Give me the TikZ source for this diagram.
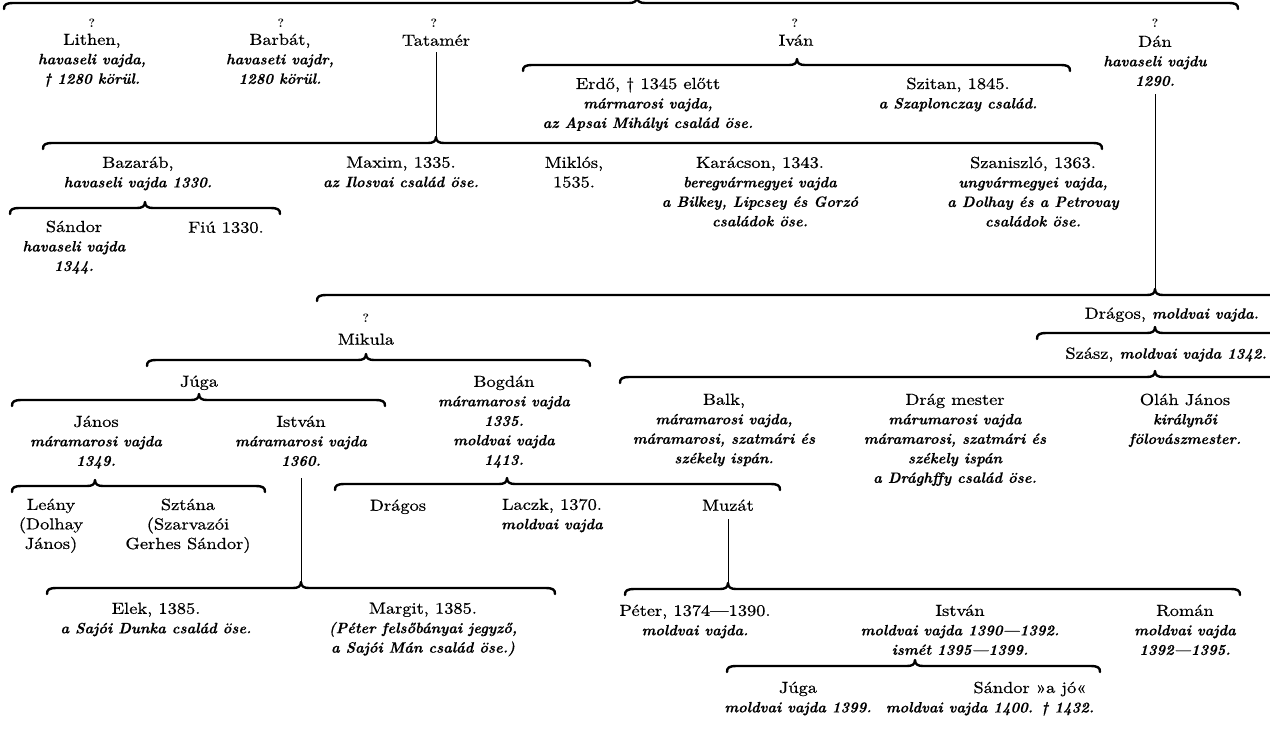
\documentclass[tikz,border=0pt]{standalone}
\usepackage{fontspec}
\setmainfont{lmroman10-regular}[Extension=.otf, FakeStretch=1.12]
\newfontfamily\rmwide{lmroman10-regular}[Extension=.otf, FakeStretch=1.15, FakeBold=0.7]
\newfontfamily\bitfont{lmroman10-bolditalic}[Extension=.otf, FakeStretch=0.97, FakeBold=0.3]
\newfontfamily\qfont{lmroman10-bold}[Extension=.otf]
\newcommand\iti[1]{{\bitfont\fontsize{15}{19.5}\selectfont #1}}
\newcommand\brc[4]{% x1 tip x2 y
  \draw[brc] (#1,#4+6) .. controls (#1,#4+1.5) and (#1+2,#4) .. (#1+10,#4) -- (#2-8,#4)
    .. controls (#2-3,#4) and (#2,#4-1.5) .. (#2,#4-6)
    .. controls (#2,#4-1.5) and (#2+3,#4) .. (#2+8,#4) -- (#3-10,#4)
    .. controls (#3-2,#4) and (#3,#4+1.5) .. (#3,#4+6);}
\tikzset{
  nm/.style={anchor=north, align=center, inner sep=0pt, font=\rmwide\fontsize{16}{19.5}\selectfont, execute at begin node={\rule{0pt}{12pt}}},
  qm/.style={inner sep=0pt, font=\qfont\fontsize{12}{13}\selectfont},
  brc/.style={line width=2.4pt, line cap=round, line join=round},
  vln/.style={line width=0.7pt},
}
\begin{document}
\begin{tikzpicture}[x=1pt,y=-1pt]
\useasboundingbox (0,0) rectangle (1270,731);
\fill[white] (0,0) rectangle (1270,731);
\clip (0,0) rectangle (1270,731);
% top brace
\brc{4}{637}{1238}{3}
% row 1
\node[qm] (q1) at (92,23) {?};
\node[qm] (q2) at (281,23) {?};
\node[qm] (q3) at (434,23) {?};
\node[qm] (q4) at (795,23) {?};
\node[qm] (q5) at (1155,23) {?};
\node[nm] (lithen) at (92,33.5) {Lithen,\\ \iti{havaseli vajda,}\\ \iti{† 1280 körül.}};
\node[nm] (barbat) at (280,33.5) {Barbát,\\ \iti{havaseti vajdr,}\\ \iti{1280 körül.}};
\node[nm] (tatamer) at (436,33.5) {Tatamér};
\node[nm] (ivan) at (796,33.5) {Iván};
\node[nm] (dan) at (1155,35.5) {Dán\\ \iti{havaseli vajdu}\\ \iti{1290.}};
% Ivan brace
\brc{523}{797}{1070}{65}
\node[nm] (erdo) at (648,77.5) {Erdő, † 1345 előtt\\ \iti{mármarosi vajda,}\\ \iti{az Apsai Mihályi család öse.}};
\node[nm] (szitan) at (958,77.5) {Szitan, 1845.\\ \iti{a Szaplonczay család.}};
% Tatamer line and brace
\coordinate (tatip) at (436,137);
\draw[vln] (tatamer.south) ++(0,6) -- (tatip);
\brc{43}{436}{1102}{143}
\node[nm] (bazarab) at (138,156.5) {Bazaráb,\\ \iti{havaseli vajda 1330.}};
\node[nm] (maxim) at (401,156.5) {Maxim, 1335.\\ \iti{az Ilosvai család öse.}};
\node[nm] (miklos) at (574,156.5) {Miklós,\\ 1535.};
\node[nm] (karacson) at (760,156.5) {Karácson, 1343.\\ \iti{beregvármegyei vajda}\\ \iti{a Bilkey, Lipcsey és Gorzó}\\ \iti{családok öse.}};
\node[nm] (szaniszlo) at (1033,156.5) {Szaniszló, 1363.\\ \iti{ungvármegyei vajda,}\\ \iti{a Dolhay és a Petrovay}\\ \iti{családok öse.}};
% Bazarab brace
\brc{10}{145}{280}{208}
\node[nm] (sandor1) at (74,220.5) {Sándor\\ \iti{havaseli vajda}\\ \iti{1344.}};
\node[nm] (fiu) at (226,220.5) {Fiú 1330.};
% Dan line and brace
\coordinate (dantip) at (1155,289);
\draw[vln] (dan.south) ++(0,8) -- (dantip);
\brc{317}{1155}{1300}{295}
\node[qm] (q6) at (366,318) {?};
\node[nm] (mikula) at (366,332.5) {Mikula};
\node[nm, anchor=north east] (dragos1) at (1259,306.5) {Drágos, \iti{moldvai vajda.}};
\brc{1037}{1155}{1300}{333}
\node[nm, anchor=north east] (szasz) at (1267,346.5) {Szász, \iti{moldvai vajda 1342.}};
% Mikula brace
\brc{147}{366}{590}{360}
\node[nm] (juga1) at (199,374.5) {Júga};
\node[nm] (bogdan) at (504,375.5) {Bogdán\\ \iti{máramarosi vajda}\\ \iti{1335.}\\ \iti{moldvai vajda}\\ \iti{1413.}};
% Szasz brace
\brc{620}{1155}{1300}{377}
\node[nm] (balk) at (724,393.5) {Balk,\\ \iti{máramarosi vajda,}\\ \iti{máramarosi, szatmári és}\\ \iti{székely ispán.}};
\node[nm] (drag) at (955,393.5) {Drág mester\\ \iti{márumarosi vajda}\\ \iti{máramarosi, szatmári és}\\ \iti{székely ispán}\\ \iti{a Drághffy család öse.}};
\node[nm] (olah) at (1185,393.5) {Oláh János\\ \iti{királynői}\\ \iti{fölovászmester.}};
% Juga brace
\brc{12}{199}{385}{400}
\node[nm] (janos) at (96,415.5) {János\\ \iti{máramarosi vajda}\\ \iti{1349.}};
\node[nm] (istvan1) at (301,415.5) {István\\ \iti{máramarosi vajda}\\ \iti{1360.}};
% Janos brace
\brc{12}{95}{265}{486}
\node[nm] (leany) at (51,498.5) {Leány\\ (Dolhay\\ János)};
\node[nm] (sztana) at (188,498.5) {Sztána\\ (Szarvazói\\ Gerhes Sándor)};
% Bogdan brace
\brc{335}{507}{780}{484}
\node[nm] (dragos2) at (398,498.5) {Drágos};
\node[nm] (laczk) at (552,498.5) {Laczk, 1370.\\ \iti{moldvai vajda}};
\node[nm] (muzat) at (728,498.5) {Muzát};
% Istvan line and brace
\coordinate (istip) at (301,582);
\draw[vln] (istvan1.south) ++(0,12) -- (istip);
\brc{47}{301}{555}{588}
\node[nm] (elek) at (156,602.5) {Elek, 1385.\\ \iti{a Sajói Dunka család öse.}};
\node[nm] (margit) at (423,602.5) {Margit, 1385.\\ \iti{(Péter felsőbányai jegyző,}\\ \iti{a Sajói Mán család öse.)}};
% Muzat line and brace
\coordinate (mutip) at (728,583);
\draw[vln] (muzat.south) ++(0,8) -- (mutip);
\brc{625}{728}{1240}{589}
\node[nm] (peter) at (695,604.5) {Péter, 1374—1390.\\ \iti{moldvai vajda.}};
\node[nm] (istvan2) at (960,604.5) {István\\ \iti{moldvai vajda 1390—1392.}\\ \iti{ismét 1395—1399.}};
\node[nm] (roman) at (1185,604.5) {Román\\ \iti{moldvai vajda}\\ \iti{1392—1395.}};
% Istvan2 brace
\brc{727}{915}{1100}{666}
\node[nm] (juga2) at (798,681.5) {Júga\\ \iti{moldvai vajda 1399.}};
\node[nm] (sandor2) at (990,681.5) {\hspace*{80pt}Sándor »a jó«\\ \iti{moldvai vajda 1400. † 1432.}};
\end{tikzpicture}
\end{document}
